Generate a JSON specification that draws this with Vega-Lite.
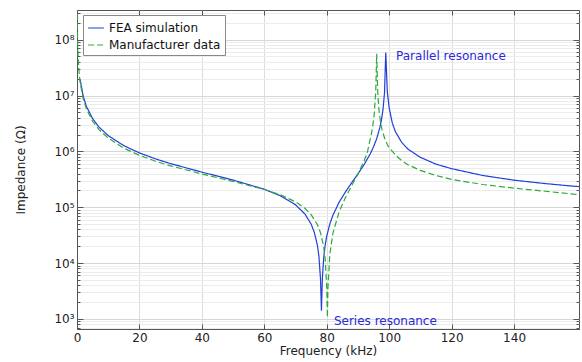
{
  "$schema": "https://vega.github.io/schema/vega-lite/v6.json",
  "autosize": {"type": "none"},
  "width": 502,
  "height": 319,
  "padding": {"left": 77, "top": 10, "right": 3, "bottom": 33},
  "background": "white",
  "config": {
    "view": {"stroke": "#555555", "strokeWidth": 1},
    "font": "DejaVu Sans",
    "axis": {"labelFont": "DejaVu Sans", "titleFont": "DejaVu Sans", "labelFontSize": 12, "titleFontSize": 12, "titleFontWeight": "normal", "labelColor": "#222222", "titleColor": "#222222", "domainColor": "#555555", "tickColor": "#555555"}
  },
  "resolve": {"axis": {"x": "independent", "y": "independent"}},
  "layer": [
    {
      "data": {"values": [
        {"f": 1, "z": 19300000, "series": "FEA simulation"},
        {"f": 2, "z": 9630000, "series": "FEA simulation"},
        {"f": 3, "z": 6420000, "series": "FEA simulation"},
        {"f": 5, "z": 3850000, "series": "FEA simulation"},
        {"f": 7, "z": 2740000, "series": "FEA simulation"},
        {"f": 10, "z": 1915000, "series": "FEA simulation"},
        {"f": 15, "z": 1266000, "series": "FEA simulation"},
        {"f": 20, "z": 939000, "series": "FEA simulation"},
        {"f": 25, "z": 739000, "series": "FEA simulation"},
        {"f": 30, "z": 603000, "series": "FEA simulation"},
        {"f": 40, "z": 425000, "series": "FEA simulation"},
        {"f": 50, "z": 306000, "series": "FEA simulation"},
        {"f": 60, "z": 210000, "series": "FEA simulation"},
        {"f": 65, "z": 162000, "series": "FEA simulation"},
        {"f": 70, "z": 110500, "series": "FEA simulation"},
        {"f": 73, "z": 75700, "series": "FEA simulation"},
        {"f": 75, "z": 49800, "series": "FEA simulation"},
        {"f": 76, "z": 35700, "series": "FEA simulation"},
        {"f": 77, "z": 20900, "series": "FEA simulation"},
        {"f": 77.5, "z": 13100, "series": "FEA simulation"},
        {"f": 78, "z": 5180, "series": "FEA simulation"},
        {"f": 78.3, "z": 1400, "series": "FEA simulation"},
        {"f": 78.6, "z": 5300, "series": "FEA simulation"},
        {"f": 79, "z": 12000, "series": "FEA simulation"},
        {"f": 79.5, "z": 21000, "series": "FEA simulation"},
        {"f": 80, "z": 30500, "series": "FEA simulation"},
        {"f": 81, "z": 50500, "series": "FEA simulation"},
        {"f": 82, "z": 72400, "series": "FEA simulation"},
        {"f": 84, "z": 124000, "series": "FEA simulation"},
        {"f": 86, "z": 188000, "series": "FEA simulation"},
        {"f": 88, "z": 275000, "series": "FEA simulation"},
        {"f": 90, "z": 396000, "series": "FEA simulation"},
        {"f": 92, "z": 584000, "series": "FEA simulation"},
        {"f": 94, "z": 918000, "series": "FEA simulation"},
        {"f": 95, "z": 1210000, "series": "FEA simulation"},
        {"f": 96, "z": 1690000, "series": "FEA simulation"},
        {"f": 97, "z": 2660000, "series": "FEA simulation"},
        {"f": 97.5, "z": 3610000, "series": "FEA simulation"},
        {"f": 98, "z": 5520000, "series": "FEA simulation"},
        {"f": 98.5, "z": 11100000, "series": "FEA simulation"},
        {"f": 98.9, "z": 59000000, "series": "FEA simulation"},
        {"f": 99.4, "z": 11600000, "series": "FEA simulation"},
        {"f": 100, "z": 6000000, "series": "FEA simulation"},
        {"f": 101, "z": 3200000, "series": "FEA simulation"},
        {"f": 102, "z": 2250000, "series": "FEA simulation"},
        {"f": 104, "z": 1450000, "series": "FEA simulation"},
        {"f": 106, "z": 1100000, "series": "FEA simulation"},
        {"f": 110, "z": 780000, "series": "FEA simulation"},
        {"f": 115, "z": 590000, "series": "FEA simulation"},
        {"f": 120, "z": 490000, "series": "FEA simulation"},
        {"f": 130, "z": 370000, "series": "FEA simulation"},
        {"f": 140, "z": 305000, "series": "FEA simulation"},
        {"f": 150, "z": 265000, "series": "FEA simulation"},
        {"f": 159, "z": 238000, "series": "FEA simulation"},
        {"f": 160.8, "z": 234000, "series": "FEA simulation"},
        {"f": 0.06, "z": 289000000, "series": "Manufacturer data"},
        {"f": 0.1, "z": 173000000, "series": "Manufacturer data"},
        {"f": 0.2, "z": 86700000, "series": "Manufacturer data"},
        {"f": 0.35, "z": 49600000, "series": "Manufacturer data"},
        {"f": 0.5, "z": 34700000, "series": "Manufacturer data"},
        {"f": 0.75, "z": 23100000, "series": "Manufacturer data"},
        {"f": 1, "z": 17300000, "series": "Manufacturer data"},
        {"f": 2, "z": 8670000, "series": "Manufacturer data"},
        {"f": 3, "z": 5780000, "series": "Manufacturer data"},
        {"f": 5, "z": 3460000, "series": "Manufacturer data"},
        {"f": 7, "z": 2470000, "series": "Manufacturer data"},
        {"f": 10, "z": 1726000, "series": "Manufacturer data"},
        {"f": 15, "z": 1143000, "series": "Manufacturer data"},
        {"f": 20, "z": 850000, "series": "Manufacturer data"},
        {"f": 25, "z": 671000, "series": "Manufacturer data"},
        {"f": 30, "z": 550000, "series": "Manufacturer data"},
        {"f": 40, "z": 394000, "series": "Manufacturer data"},
        {"f": 50, "z": 290000, "series": "Manufacturer data"},
        {"f": 60, "z": 208000, "series": "Manufacturer data"},
        {"f": 65, "z": 168000, "series": "Manufacturer data"},
        {"f": 70, "z": 125000, "series": "Manufacturer data"},
        {"f": 73, "z": 95800, "series": "Manufacturer data"},
        {"f": 75, "z": 73700, "series": "Manufacturer data"},
        {"f": 77, "z": 48800, "series": "Manufacturer data"},
        {"f": 78, "z": 35000, "series": "Manufacturer data"},
        {"f": 79, "z": 19900, "series": "Manufacturer data"},
        {"f": 79.5, "z": 11900, "series": "Manufacturer data"},
        {"f": 80, "z": 3630, "series": "Manufacturer data"},
        {"f": 80.2, "z": 1060, "series": "Manufacturer data"},
        {"f": 80.4, "z": 3720, "series": "Manufacturer data"},
        {"f": 81, "z": 14700, "series": "Manufacturer data"},
        {"f": 82, "z": 34900, "series": "Manufacturer data"},
        {"f": 84, "z": 83700, "series": "Manufacturer data"},
        {"f": 86, "z": 149000, "series": "Manufacturer data"},
        {"f": 88, "z": 244000, "series": "Manufacturer data"},
        {"f": 90, "z": 395000, "series": "Manufacturer data"},
        {"f": 92, "z": 682000, "series": "Manufacturer data"},
        {"f": 93, "z": 954000, "series": "Manufacturer data"},
        {"f": 93.7, "z": 1460000, "series": "Manufacturer data"},
        {"f": 94.2, "z": 1920000, "series": "Manufacturer data"},
        {"f": 94.7, "z": 2740000, "series": "Manufacturer data"},
        {"f": 95.2, "z": 4560000, "series": "Manufacturer data"},
        {"f": 95.7, "z": 12200000, "series": "Manufacturer data"},
        {"f": 96.0, "z": 56000000, "series": "Manufacturer data"},
        {"f": 96.3, "z": 12700000, "series": "Manufacturer data"},
        {"f": 96.7, "z": 5650000, "series": "Manufacturer data"},
        {"f": 97.2, "z": 3390000, "series": "Manufacturer data"},
        {"f": 97.7, "z": 2450000, "series": "Manufacturer data"},
        {"f": 98.7, "z": 1610000, "series": "Manufacturer data"},
        {"f": 99.7, "z": 1230000, "series": "Manufacturer data"},
        {"f": 102, "z": 862000, "series": "Manufacturer data"},
        {"f": 104, "z": 683000, "series": "Manufacturer data"},
        {"f": 106, "z": 578000, "series": "Manufacturer data"},
        {"f": 110, "z": 456000, "series": "Manufacturer data"},
        {"f": 115, "z": 370000, "series": "Manufacturer data"},
        {"f": 120, "z": 315000, "series": "Manufacturer data"},
        {"f": 130, "z": 255000, "series": "Manufacturer data"},
        {"f": 140, "z": 220000, "series": "Manufacturer data"},
        {"f": 150, "z": 193000, "series": "Manufacturer data"},
        {"f": 159, "z": 172000, "series": "Manufacturer data"},
        {"f": 160.8, "z": 169000, "series": "Manufacturer data"}
      ]},
      "mark": {"type": "line", "strokeWidth": 1.2, "clip": true},
      "encoding": {
        "x": {
          "field": "f", "type": "quantitative",
          "scale": {"domain": [0, 160.8], "nice": false, "zero": false},
          "axis": {
            "title": "Frequency (kHz)",
            "values": [0, 20, 40, 60, 80, 100, 120, 140],
            "grid": true, "gridColor": "#dddddd",
            "tickSize": -5, "labelPadding": 8, "titlePadding": 2, "labelFlush": false
          }
        },
        "y": {
          "field": "z", "type": "quantitative",
          "scale": {"type": "log", "domain": [660, 340000000], "nice": false},
          "axis": {
            "title": "Impedance (Ω)",
            "values": [700, 800, 900, 1000, 2000, 3000, 4000, 5000, 6000, 7000, 8000, 9000, 10000, 20000, 30000, 40000, 50000, 60000, 70000, 80000, 90000, 100000, 200000, 300000, 400000, 500000, 600000, 700000, 800000, 900000, 1000000, 2000000, 3000000, 4000000, 5000000, 6000000, 7000000, 8000000, 9000000, 10000000, 20000000, 30000000, 40000000, 50000000, 60000000, 70000000, 80000000, 90000000, 100000000, 200000000, 300000000],
            "labelExpr": "abs(log(datum.value)/LN10 - round(log(datum.value)/LN10)) < 0.001 ? '10' + ['⁰','¹','²','³','⁴','⁵','⁶','⁷','⁸','⁹'][round(log(datum.value)/LN10)] : ''",
            "labelOverlap": false,
            "labelFlush": false,
            "grid": true,
            "gridColor": {"condition": {"test": "abs(log(datum.value)/LN10 - round(log(datum.value)/LN10)) < 0.001", "value": "#d6d6d6"}, "value": "#ececec"},
            "tickSize": {"condition": {"test": "abs(log(datum.value)/LN10 - round(log(datum.value)/LN10)) < 0.001", "value": -6}, "value": -3},
            "labelPadding": 9,
            "titlePadding": 26
          }
        },
        "color": {
          "field": "series", "type": "nominal",
          "scale": {"domain": ["FEA simulation", "Manufacturer data"], "range": ["#1f3fd6", "#2eaa3a"]},
          "legend": {
            "title": null, "orient": "none", "legendX": 6, "legendY": 5,
            "fillColor": "white", "strokeColor": "#888888", "padding": 4,
            "labelFont": "DejaVu Sans", "labelFontSize": 12, "labelColor": "#111111",
            "symbolType": "stroke", "symbolSize": 250, "symbolStrokeWidth": 1.2, "rowPadding": 2
          }
        },
        "strokeDash": {
          "field": "series", "type": "nominal",
          "scale": {"domain": ["FEA simulation", "Manufacturer data"], "range": [[1, 0], [6, 3]]},
          "legend": null
        }
      }
    },
    {
      "data": {"values": [
        {"f": 102.2, "z": 51700000, "label": "Parallel resonance"},
        {"f": 82.3, "z": 920, "label": "Series resonance"}
      ]},
      "mark": {"type": "text", "align": "left", "baseline": "middle", "font": "DejaVu Sans", "fontSize": 12, "color": "#2a2ad6"},
      "encoding": {
        "x": {
          "field": "f", "type": "quantitative",
          "axis": {"orient": "top", "title": null, "labels": false, "grid": false, "domain": false, "values": [0, 20, 40, 60, 80, 100, 120, 140], "tickSize": -5}
        },
        "y": {
          "field": "z", "type": "quantitative",
          "axis": {
            "orient": "right", "title": null, "labels": false, "grid": false, "domain": false,
            "values": [700, 800, 900, 1000, 2000, 3000, 4000, 5000, 6000, 7000, 8000, 9000, 10000, 20000, 30000, 40000, 50000, 60000, 70000, 80000, 90000, 100000, 200000, 300000, 400000, 500000, 600000, 700000, 800000, 900000, 1000000, 2000000, 3000000, 4000000, 5000000, 6000000, 7000000, 8000000, 9000000, 10000000, 20000000, 30000000, 40000000, 50000000, 60000000, 70000000, 80000000, 90000000, 100000000, 200000000, 300000000],
            "tickSize": {"condition": {"test": "abs(log(datum.value)/LN10 - round(log(datum.value)/LN10)) < 0.001", "value": -6}, "value": -3}
          }
        },
        "text": {"field": "label"}
      }
    }
  ]
}
